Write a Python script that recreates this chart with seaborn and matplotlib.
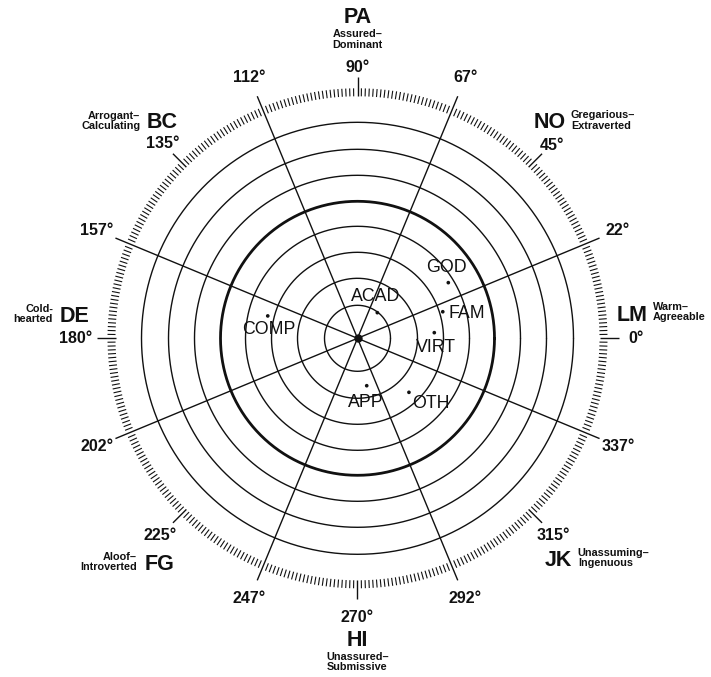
import numpy as np
import pandas as pd
import matplotlib
matplotlib.use("Agg")
import matplotlib.pyplot as plt
import seaborn as sns

# Scored points: angle on the circle (degrees) and distance from the centre
names = ["GOD", "ACAD", "FAM", "COMP", "VIRT", "APP", "OTH"]
angle_deg = [31.5, 52.3, 17.3, 166.0, 4.2, 281.0, 313.6]
distance = [106.5, 32.4, 89.3, 92.5, 77.0, 48.3, 74.6]

# Concentric reference rings (chart units); the fifth one is drawn heavy
ring_radii = [33, 60, 86, 112, 137, 163, 189, 216]
heavy_ring = 137

# Octants of the interpersonal circle
octant_angles = [0, 45, 90, 135, 180, 225, 270, 315]
octant_codes = ["LM", "NO", "PA", "BC", "DE", "FG", "HI", "JK"]
octant_names = ["Warm–\nAgreeable", "Gregarious–\nExtraverted",
                "Assured–\nDominant", "Arrogant–\nCalculating",
                "Cold-\nhearted", "Aloof–\nIntroverted",
                "Unassured–\nSubmissive", "Unassuming–\nIngenuous"]
octant_deg_labels = ["0°", "45°", "90°", "135°", "180°", "225°", "270°", "315°"]

# Spokes between the octants
spoke_angles = [22.5, 67.5, 112.5, 157.5, 202.5, 247.5, 292.5, 337.5]
spoke_labels = ["22°", "67°", "112°", "157°", "202°", "247°", "292°", "337°"]

sns.set_theme(style="white")
plt.rcParams["font.family"] = ["Liberation Sans", "DejaVu Sans"]

W, H, DPI = 711, 677, 100
fig = plt.figure(figsize=(W / DPI, H / DPI), dpi=DPI)
cx, cy, R = 357.5, 338.3, 270.0
ax = fig.add_axes([(cx - R) / W, (H - cy - R) / H, 2 * R / W, 2 * R / H],
                  projection="polar")
ax.set_ylim(0, R)
ax.set_axis_off()

ink = "#111111"
theta = np.linspace(0, 2 * np.pi, 721)

# rings
for r in ring_radii:
    ax.plot(theta, np.full_like(theta, r), color=ink,
            lw=2.0 if r == heavy_ring else 1.0, zorder=2)

# spokes
ax.vlines(np.deg2rad(spoke_angles), 0, 262, color=ink, lw=1.0, zorder=2)

# graduated rim: 400 divisions, long marks at the octant directions
steps = np.arange(400)
fine = steps[(steps % 25) != 0] * 0.9
ax.vlines(np.deg2rad(fine), 242, 250, color=ink, lw=0.8, zorder=2)
ax.vlines(np.deg2rad(octant_angles), 242, 261, color=ink, lw=1.0, zorder=2)

# centre marker
ax.plot([0], [0], "o", color=ink, ms=5, zorder=4)

# scored points
df = pd.DataFrame({"name": names,
                   "theta": np.deg2rad(angle_deg),
                   "r": distance})
sns.scatterplot(data=df, x="theta", y="r", ax=ax, color=ink, s=7,
                edgecolor="none", zorder=5, legend=False)

# point labels: (dx, dy) offset in points and horizontal alignment
label_place = {
    "GOD": ((-1, 11), "center"),
    "ACAD": ((-1, 11.5), "center"),
    "FAM": ((4, -1), "left"),
    "COMP": ((1, -10), "center"),
    "VIRT": ((1, -10.5), "center"),
    "APP": ((-0.7, -12), "center"),
    "OTH": ((2, -8), "left"),
}
for _, row in df.iterrows():
    off, ha = label_place[row["name"]]
    ax.annotate(row["name"], (row["theta"], row["r"]), xytext=off,
                textcoords="offset points", ha=ha, va="center",
                fontsize=12.8, color=ink, zorder=6)

# spoke degree labels
for a, lab in zip(spoke_angles, spoke_labels):
    ax.text(np.deg2rad(a), 282, lab, ha="center", va="center",
            fontsize=11.5, fontweight="bold", color=ink)

# octant codes, names and degree labels
layout = {
    0:   ((4.85, 275.5), (5.1, 296.7, "left"), (0, 270.5, "left")),
    45:  ((48.4, 289), (45.6, 305, "left"), (44.7, 274, "center")),
    90:  ((90, 321), (90, 299, "center"), (90, 271, "center")),
    135: ((132.2, 290.8), (135, 307.4, "right"), (135, 276, "center")),
    180: ((175.5, 283.4), (175.4, 305.5, "right"), (180, 265.5, "right")),
    225: ((228.8, 300), (225.4, 314, "right"), (225, 279.5, "center")),
    270: ((270, 301.7), (270, 323.7, "center"), (270, 278.7, "center")),
    315: ((312.1, 299), (315.1, 311, "left"), (314.7, 278, "center")),
}
for a, code, nm, dl in zip(octant_angles, octant_codes, octant_names,
                           octant_deg_labels):
    (ct, cr), (nt, nr, nha), (dt, dr, dha) = layout[a]
    ax.text(np.deg2rad(ct), cr, code, ha="center", va="center",
            fontsize=15.5, fontweight="bold", color=ink)
    ax.text(np.deg2rad(nt), nr, nm, ha=nha, va="center", ma=nha,
            fontsize=7.8, fontweight="bold", color=ink, linespacing=1.05)
    ax.text(np.deg2rad(dt), dr, dl, ha=dha, va="center",
            fontsize=11.5, fontweight="bold", color=ink)

fig.savefig("out.png", dpi=DPI, facecolor="white")
